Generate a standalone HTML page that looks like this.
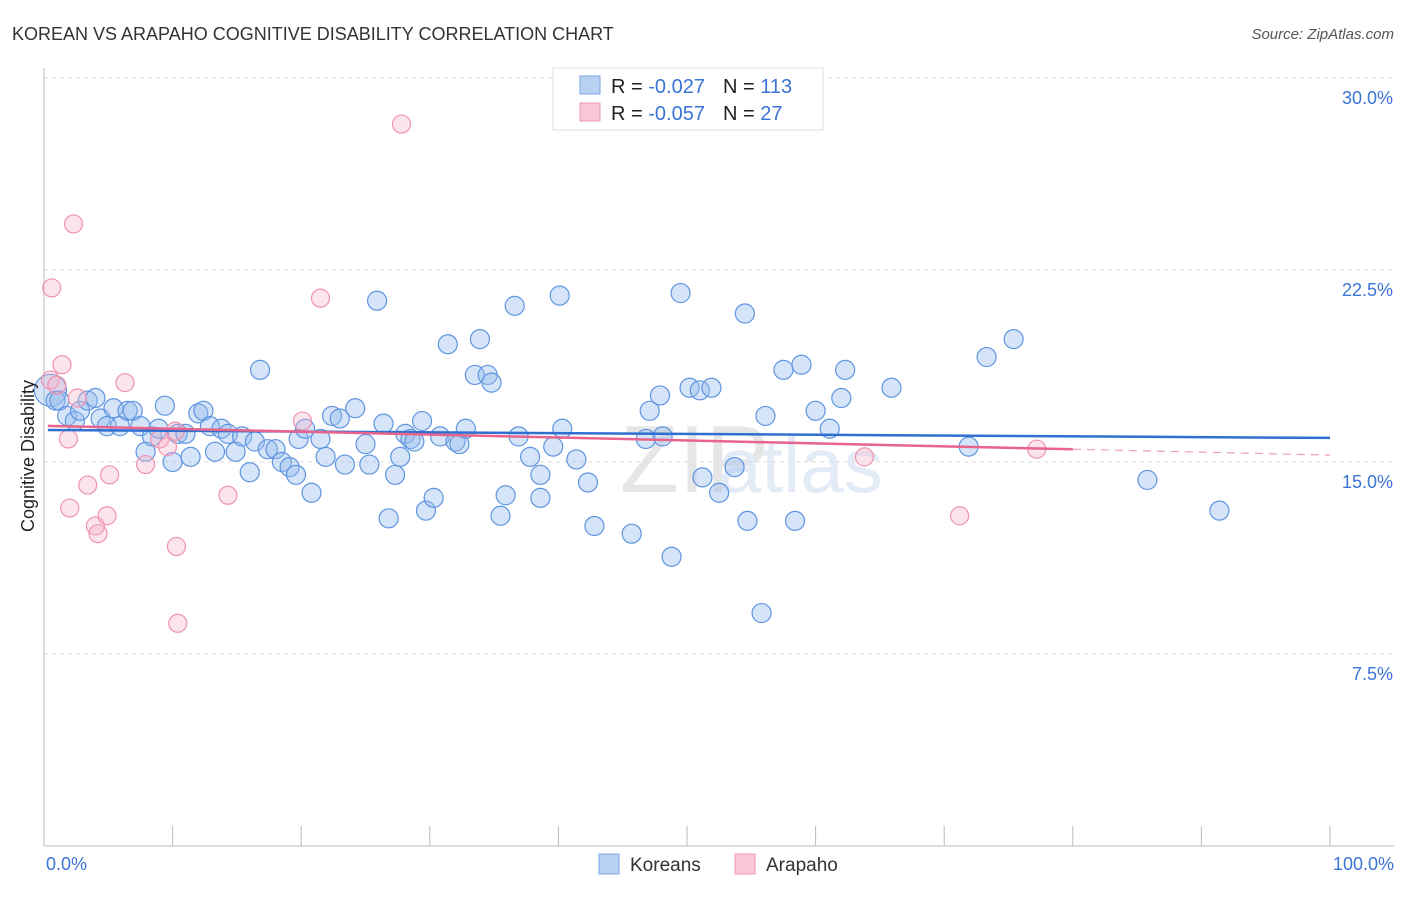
<!DOCTYPE html>
<html><head><meta charset="utf-8"><style>
body{margin:0;background:#fff;font-family:"Liberation Sans",sans-serif;}
svg text{font-family:"Liberation Sans",sans-serif;}
</style></head><body>
<svg id="chart" width="1406" height="892" xmlns="http://www.w3.org/2000/svg">
<text x="12" y="40" font-size="18" fill="#333">KOREAN VS ARAPAHO COGNITIVE DISABILITY CORRELATION CHART</text>
<text x="1394" y="39" font-size="15" fill="#555" text-anchor="end" font-style="italic">Source: ZipAtlas.com</text>
<text x="620" y="492" font-size="96" fill="#e6e6e6" font-family="Liberation Serif">ZIP</text>
<text x="718" y="492" font-size="78" fill="#e3ebf7">atlas</text>
<g id="grid"></g>
<g id="axes"></g>
<g id="marks"></g>
<text transform="translate(34,456) rotate(-90)" font-size="18" fill="#222" text-anchor="middle">Cognitive Disability</text>
<g>
<rect x="553" y="68" width="270" height="62" fill="#fff" stroke="#ddd"/>
<rect x="580" y="76" width="20" height="18" fill="#b8d1f3" stroke="#7aa7e6"/>
<rect x="580" y="103" width="20" height="18" fill="#f8c8d6" stroke="#ee9ab4"/>
<text x="611" y="93" font-size="20" fill="#222">R = <tspan fill="#3b74d6">-0.027</tspan><tspan dx="18">N = </tspan><tspan fill="#3b74d6">113</tspan></text>
<text x="611" y="120" font-size="20" fill="#222">R = <tspan fill="#3b74d6">-0.057</tspan><tspan dx="18">N = </tspan><tspan fill="#3b74d6"> 27</tspan></text>
</g>
<g>
<rect x="599" y="854" width="20" height="20" fill="#b8d1f3" stroke="#7aa7e6"/>
<text x="630" y="871" font-size="19" fill="#333">Koreans</text>
<rect x="735" y="854" width="20" height="20" fill="#f8c8d6" stroke="#ee9ab4"/>
<text x="766" y="871" font-size="19" fill="#333">Arapaho</text>
</g>
</svg>
<script>
const yTicks=[7.5,15,22.5,30];
const yTickLabels=["7.5%","15.0%","22.5%","30.0%"];
const xTickLabels=["0.0%","100.0%"];
const koreanX=[0.5,0.9,1.2,1.8,2.4,2.8,3.4,4.0,4.4,4.9,5.4,5.9,6.5,6.9,7.5,7.9,8.4,8.9,9.4,10.0,10.4,11.0,11.4,12.0,12.4,12.9,13.3,13.8,14.3,14.9,15.4,16.0,16.4,16.8,17.4,18.0,18.5,19.1,19.6,19.8,20.3,20.8,21.5,21.9,22.4,23.0,23.4,24.2,25.0,25.3,25.9,26.4,26.8,27.3,27.7,28.1,28.5,28.8,29.4,29.7,30.3,30.8,31.4,32.0,32.3,32.8,33.5,33.9,34.5,34.8,35.5,35.9,36.6,36.9,37.8,38.6,38.6,39.6,40.1,40.3,41.4,42.3,42.8,45.7,46.8,47.1,47.9,48.1,48.8,49.5,50.2,51.0,51.2,51.9,52.5,53.7,54.5,54.7,55.8,56.1,57.5,58.4,58.9,60.0,61.1,62.0,62.3,65.9,71.9,73.3,75.4,85.8,91.4];
const koreanY=[17.8,17.4,17.4,16.8,16.6,17.0,17.4,17.5,16.7,16.4,17.1,16.4,17.0,17.0,16.4,15.4,16.0,16.3,17.2,15.0,16.1,16.1,15.2,16.9,17.0,16.4,15.4,16.3,16.1,15.4,16.0,14.6,15.8,18.6,15.5,15.5,15.0,14.8,14.5,15.9,16.3,13.8,15.9,15.2,16.8,16.7,14.9,17.1,15.7,14.9,21.3,16.5,12.8,14.5,15.2,16.1,15.9,15.8,16.6,13.1,13.6,16.0,19.6,15.8,15.7,16.3,18.4,19.8,18.4,18.1,12.9,13.7,21.1,16.0,15.2,14.5,13.6,15.6,21.5,16.3,15.1,14.2,12.5,12.2,15.9,17.0,17.6,16.0,11.3,21.6,17.9,17.8,14.4,17.9,13.8,14.8,20.8,12.7,9.1,16.8,18.6,12.7,18.8,17.0,16.3,17.5,18.6,17.9,15.6,19.1,19.8,14.3,13.1];
const arapahoX=[0.5,1.0,0.6,1.4,1.9,2.0,2.3,2.6,3.4,4.0,4.2,4.9,5.1,6.3,7.9,9.0,9.6,10.2,10.3,10.4,14.3,20.1,21.5,27.8,63.8,71.2,77.2];
const arapahoY=[18.2,18.0,21.8,18.8,15.9,13.2,24.3,17.5,14.1,12.5,12.2,12.9,14.5,18.1,14.9,15.9,15.6,16.2,11.7,8.7,13.7,16.6,21.4,28.2,15.2,12.9,15.5];
const koreanTrend=[16.25,15.94];
const arapahoTrend=[16.41,15.27];
const arapahoSolidEnd=80;
const sx=v=>44+v*12.86, sy=v=>846-v*25.6;
const NS="http://www.w3.org/2000/svg";
function mk(tag,at,parent){const e=document.createElementNS(NS,tag);for(const k in at)e.setAttribute(k,at[k]);document.getElementById(parent).appendChild(e);return e;}
yTicks.forEach((t,i)=>{
 const g=mk('line',{x1:44,x2:1394,y1:sy(t),y2:sy(t),stroke:'#ddd','stroke-dasharray':'4,4'},'grid');
 
 
 const l=mk('text',{x:1393,y:sy(t)+26,'font-size':18,fill:'#3b74d6','text-anchor':'end'},'grid');
 l.textContent=yTickLabels[i];
 
 
});
const ax=mk('line',{x1:44,x2:44,y1:68,y2:846,stroke:'#bbb'},'axes');


const bx=mk('line',{x1:44,x2:1394,y1:846,y2:846,stroke:'#bbb'},'axes');


for(let i=0;i<=10;i++){
 const t=mk('line',{x1:sx(i*10),x2:sx(i*10),y1:826,y2:846,stroke:'#bbb'},'axes');
 
 
}
[[0,'start',46],[100,'end',1394]].forEach((d,i)=>{
 const t=mk('text',{x:d[2],y:870,'font-size':18,fill:'#3b74d6','text-anchor':d[1]},'axes');
 t.textContent=xTickLabels[i];
 
 
});
koreanX.forEach((x,i)=>{
 const c=mk('circle',{cx:sx(x),cy:sy(koreanY[i]),r:i==0?16:9.5,fill:'rgba(150,188,238,0.4)',stroke:'#5f95e0','stroke-width':1.2},'marks');
 
 
});
arapahoX.forEach((x,i)=>{
 const c=mk('circle',{cx:sx(x),cy:sy(arapahoY[i]),r:9,fill:'rgba(246,178,200,0.35)',stroke:'#ef93b1','stroke-width':1.2},'marks');
 
 
});
const kt=mk('line',{x1:sx(0.3),x2:sx(100),y1:sy(koreanTrend[0]),y2:sy(koreanTrend[1]),stroke:'#2f6fd0','stroke-width':2.5},'marks');


const ym=arapahoTrend[0]+(arapahoTrend[1]-arapahoTrend[0])*arapahoSolidEnd/100;
const at=mk('line',{x1:sx(0.3),x2:sx(arapahoSolidEnd),y1:sy(arapahoTrend[0]),y2:sy(ym),stroke:'#e8648c','stroke-width':2.5},'marks');


const ad=mk('line',{x1:sx(arapahoSolidEnd),x2:sx(100),y1:sy(ym),y2:sy(arapahoTrend[1]),stroke:'#eea0b8','stroke-width':1.2,'stroke-dasharray':'8,6'},'marks');


</script>
</body></html>
